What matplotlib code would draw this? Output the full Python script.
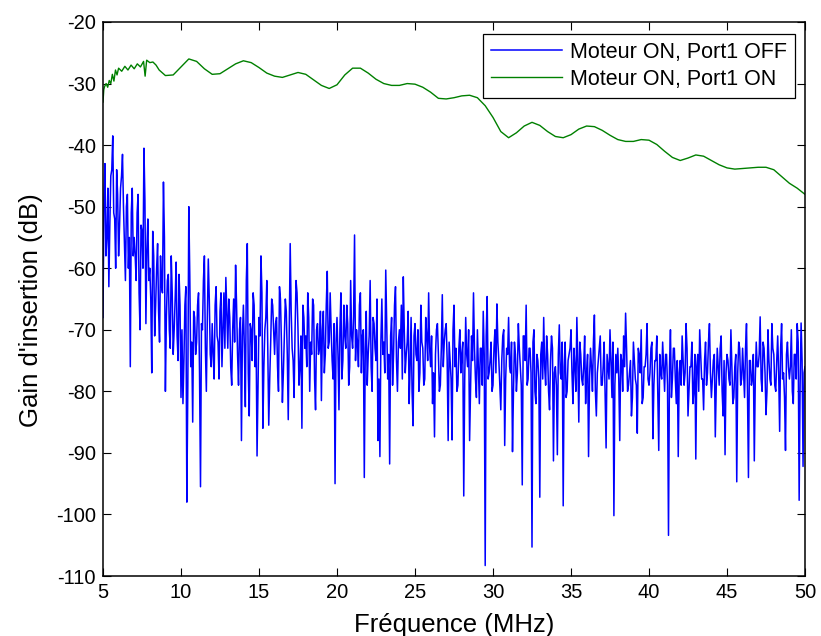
import numpy as np
import matplotlib
matplotlib.use("Agg")
import matplotlib.pyplot as plt

plt.rcParams['font.family'] = ['Liberation Sans', 'DejaVu Sans']
plt.rcParams['axes.unicode_minus'] = False

# Moteur ON, Port1 ON  (green, smooth with ripples, a bit noisy at low freq)
freq_on = [5.0, 5.05, 5.1, 5.2, 5.3, 5.4, 5.5, 5.6, 5.7, 5.8, 5.9, 6.0, 6.2, 6.4,
           6.6, 6.8, 7.0, 7.2, 7.4, 7.6, 7.7, 7.8, 8.0, 8.2, 8.4, 8.6,
           9.0, 9.5, 10.0, 10.5, 11.0,
           11.5, 12.0, 12.5, 13.0, 13.5, 14.0, 14.5, 15.0, 15.5, 16.0, 16.5, 17.0,
           17.5, 18.0, 18.5, 19.0, 19.5, 20.0, 20.5, 21.0, 21.5, 22.0, 22.5, 23.0,
           23.5, 24.0, 24.5, 25.0, 25.5, 26.0, 26.5, 27.0, 27.5, 28.0, 28.5, 29.0,
           29.5, 30.0, 30.5, 31.0, 31.5, 32.0, 32.5, 33.0, 33.5, 34.0, 34.5, 35.0,
           35.5, 36.0, 36.5, 37.0, 37.5, 38.0, 38.5, 39.0, 39.5, 40.0, 40.5, 41.0,
           41.5, 42.0, 42.5, 43.0, 43.5, 44.0, 44.5, 45.0, 45.5, 46.0, 46.5, 47.0,
           47.5, 48.0, 48.5, 49.0, 49.5, 50.0]
gain_on = [-33.0, -31.0, -30.5, -30.0, -30.6, -29.5, -30.0, -28.5, -29.6, -27.8,
           -28.6, -27.5, -28.0, -27.2, -27.8, -27.0, -27.6, -26.8, -27.3, -26.4,
           -28.8, -26.2, -26.6, -26.5, -27.0, -27.8,
           -28.7, -28.6, -27.3, -26.0, -26.4, -27.6, -28.5, -28.4, -27.6, -26.8, -26.3,
           -26.6, -27.4, -28.3, -28.8, -29.0, -28.6, -28.2, -28.5, -29.4, -30.3,
           -30.8, -30.2, -28.6, -27.5, -27.5, -28.3, -29.3, -30.0, -30.3, -30.3,
           -30.0, -30.1, -30.6, -31.4, -32.4, -32.5, -32.3, -32.0, -31.9, -32.3,
           -33.6, -35.5, -37.8, -38.8, -38.0, -36.9, -36.3, -36.8, -37.8, -38.6,
           -38.8, -38.3, -37.4, -36.9, -37.0, -37.6, -38.4, -39.1, -39.4, -39.4,
           -39.1, -39.2, -39.9, -41.0, -42.0, -42.5, -42.1, -41.6, -41.8, -42.5,
           -43.2, -43.7, -43.9, -43.8, -43.7, -43.6, -43.6, -44.0, -45.1, -46.2,
           -47.0, -48.0]

# Moteur ON, Port1 OFF  (blue, noisy)
# readings every 0.125 MHz from 5 to 50 MHz
gain_off_a = [
    -68, -43, -55, -63, -45, -38.5, -52, -44,          # 5
    -58, -47, -41.5, -56, -50, -60, -76, -47,          # 6
    -55, -62, -48, -70, -54, -40.5, -69, -52,          # 7
    -60, -77, -58, -66, -56, -72, -63, -46,            # 8
    -80, -62, -70, -58, -74, -65, -71, -61,            # 9
    -81, -82, -66, -98, -50, -76, -85, -68,            # 10
    -72, -64, -95.5, -70, -58, -80, -58.5, -74,        # 11
    -69, -78, -63, -72, -67, -76, -64, -61.5,          # 12
    -73, -68, -79, -65, -59.5, -74, -70, -88,          # 13
    -66, -82.5, -56, -84, -70, -64, -76, -90.5,        # 14
    -68, -58, -86, -70, -62, -85.5, -72, -66,          # 15
    -74, -68, -80, -65, -81.8, -71, -67, -84.6,        # 16
    -56, -73, -81, -62, -70, -76, -86, -68,            # 17
    -71, -64, -80, -74, -66, -83, -69, -73,            # 18
    -81.5, -67, -74, -60.5, -72, -70, -78, -95,        # 19
    -68, -83, -64, -75, -71, -66, -79, -62,            # 20
    -73, -54.6, -70, -76, -64, -71, -94, -67,          # 21
    -74, -62, -80, -69, -75, -88, -90.6, -65,          # 22
    -72, -60.3, -78, -91.8, -68, -74, -63, -80,        # 23
    -70, -66, -61.4, -77, -72, -82, -68, -85.6,        # 24
    -69, -75, -80, -66, -73, -78, -71, -64,            # 25
    -76, -82, -87.4, -70, -74, -79, -64.3, -72,        # 26
    -69, -88, -75, -87.9, -66, -73, -79, -70,          # 27
    -74, -97, -68, -76, -88, -71, -64, -78,            # 28
    -70, -82, -73, -67, -108.3, -64.6, -77, -72,       # 29
    -79, -70, -65.8, -75, -83, -71, -88.8, -73,        # 30
    -68, -77, -89.8, -72, -80, -69, -76, -95.2,        # 31
    -71, -66, -78, -73, -105.3, -70, -82, -75,         # 32
    -97.2, -72, -68, -79, -74, -83, -71, -91.3,        # 33
    -76, -90.3, -69.2, -78, -98.6, -72, -80, -74,      # 34
    -70, -82, -76, -68, -85, -74, -79, -71,            # 35
    -77, -90.6, -73, -80, -67.6, -84, -75, -71,        # 36
    -79, -72, -89.2, -76, -70, -81, -100.2, -74,       # 37
    -73, -88, -75, -71, -67.3, -80, -77, -84,          # 38
    -72, -78, -86.8, -74, -70, -81, -76, -69,          # 39
    -79, -73, -87.7, -75, -71, -89.6, -77, -72,        # 40
    -80, -74, -103.4, -70, -78, -73, -82, -90.6,       # 41
    -75, -71, -79, -69, -84, -76, -72, -80,            # 42
    -91, -74, -70, -78, -83, -72, -77, -69,            # 43
    -81, -75, -87.4, -73, -79, -71, -84, -90.3,        # 44
    -74, -78, -70, -82, -76, -94.7, -72, -79,          # 45
    -73, -81, -69, -94, -75, -78, -91.3, -72,          # 46
    -76, -67.9, -80, -73, -83.8, -70, -78, -69,        # 47
    -74, -80, -71, -86.5, -69, -77, -89.6, -72,        # 48
    -78, -70, -82, -74, -69, -97.7, -68.9, -92.2,      # 49
    -76,                                                # 50
]
# readings half-way between the ones above (5.0625, 5.1875, ...)
gain_off_b = [
    -49, -58, -47, -53, -44, -51, -60, -48,            # 5
    -53, -45, -50, -62, -48, -55, -51, -58,            # 6
    -58, -51, -64, -53, -60, -49, -57, -62,            # 7
    -65, -54, -71, -60, -67, -58, -64, -55,            # 8
    -68, -61, -73, -64, -70, -59, -75, -66,            # 9
    -70, -75, -63, -79, -61, -72, -67, -74,            # 10
    -66, -77, -69, -62, -73, -68, -65, -76,            # 11
    -74, -66, -71, -78, -64, -70, -73, -67,            # 12
    -65, -76, -70, -72, -66, -79, -68, -71,            # 13
    -73, -62, -77, -69, -75, -66, -71, -79,            # 14
    -71, -64, -76, -68, -73, -78, -65, -70,            # 15
    -69, -76, -63, -72, -77, -65, -74, -70,            # 16
    -67, -75, -70, -64, -79, -71, -66, -73,            # 17
    -76, -68, -72, -65, -78, -70, -74, -67,            # 18
    -70, -77, -66, -73, -64, -75, -69, -72,            # 19
    -74, -70, -78, -66, -73, -69, -76, -71,            # 20
    -68, -75, -72, -66, -77, -70, -73, -79,            # 21
    -71, -76, -68, -73, -65, -78, -72, -74,            # 22
    -77, -69, -74, -71, -79, -66, -75, -72,            # 23
    -73, -78, -70, -74, -67, -76, -80, -71,            # 24
    -74, -70, -77, -72, -79, -68, -75, -73,            # 25
    -71, -77, -74, -69, -80, -73, -76, -70,            # 26
    -75, -72, -78, -70, -76, -80, -73, -77,            # 27
    -72, -78, -74, -70, -79, -75, -73, -81,            # 28
    -76, -73, -79, -74, -71, -78, -75, -80,            # 29
    -73, -77, -72, -79, -75, -70, -78, -74,            # 30
    -76, -72, -80, -74, -77, -73, -79, -71,            # 31
    -75, -79, -73, -77, -72, -80, -74, -78,            # 32
    -74, -78, -76, -71, -80, -75, -73, -77,            # 33
    -79, -74, -77, -72, -76, -81, -75, -73,            # 34
    -77, -73, -80, -75, -72, -78, -76, -82,            # 35
    -74, -78, -76, -72, -80, -77, -73, -79,            # 36
    -76, -81, -74, -78, -75, -72, -79, -77,            # 37
    -78, -74, -80, -76, -73, -79, -75, -81,            # 38
    -75, -79, -73, -77, -82, -76, -74, -78,            # 39
    -77, -72, -79, -75, -80, -74, -78, -76,            # 40
    -74, -79, -76, -81, -73, -78, -75, -77,            # 41
    -79, -75, -77, -73, -80, -76, -82, -74,            # 42
    -76, -80, -74, -78, -75, -79, -72, -77,            # 43
    -78, -74, -79, -76, -73, -80, -75, -77,            # 44
    -75, -79, -76, -81, -74, -77, -73, -78,            # 45
    -77, -73, -80, -75, -79, -74, -78, -76,            # 46
    -74, -78, -72, -77, -80, -75, -79, -73,            # 47
    -79, -75, -77, -73, -78, -81, -74, -76,            # 48
    -76, -80, -74, -78, -72, -79, -75, -77,            # 49
]

freq_off = np.linspace(5.0, 50.0, len(gain_off_a) + len(gain_off_b))
gain_off = np.empty(len(freq_off))
gain_off[0::2] = gain_off_a
gain_off[1::2] = gain_off_b

fig = plt.figure(figsize=(8.21, 6.36), dpi=100)
ax = fig.add_axes([103 / 821, 1 - 576 / 636, 702 / 821, 554 / 636])

ax.plot(freq_off, gain_off, color='#0000ff', lw=1.1, label='Moteur ON, Port1 OFF')
ax.plot(freq_on, gain_on, color='#008000', lw=1.0, label='Moteur ON, Port1 ON')

ax.set_xlim(5, 50)
ax.set_ylim(-110, -20)
ax.set_xticks(np.arange(5, 51, 5))
ax.set_yticks(np.arange(-110, -19, 10))
ax.tick_params(direction='in', top=True, right=True, length=6, width=0.8,
               labelsize=14.5, pad=5)
for s in ax.spines.values():
    s.set_linewidth(1.1)

ax.set_xlabel('Fréquence (MHz)', fontsize=18.5)
ax.xaxis.set_label_coords(0.5, -(632 - 576) / 554)
ax.xaxis.label.set_va('baseline')
ax.set_ylabel("Gain d'insertion (dB)", fontsize=18.5)
ax.yaxis.set_label_coords(-(103 - 31) / 702, 0.48)
ax.yaxis.label.set_va('center')

leg = ax.legend(loc='upper right', bbox_to_anchor=((795 - 103) / 702, (576 - 34) / 554),
                borderaxespad=0, fontsize=15.5, fancybox=False, framealpha=1,
                edgecolor='black', handlelength=3.3, handletextpad=0.4,
                labelspacing=0.3, borderpad=0.35)
leg.get_frame().set_linewidth(0.9)

fig.savefig('out.png', dpi=100)
